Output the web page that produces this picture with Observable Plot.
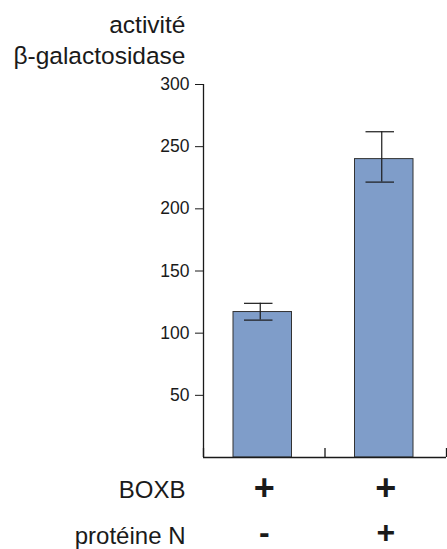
<!DOCTYPE html>
<html><head><meta charset="utf-8">
<script src="https://cdn.jsdelivr.net/npm/d3@7"></script>
<script src="https://cdn.jsdelivr.net/npm/@observablehq/plot@0.6"></script>
<style>body{margin:0;background:#fff}</style>
</head><body><div id="chart"></div>
<script>
const conditions = ["BOXB + / N -", "BOXB + / N +"];
const values = [117, 240];
const errLow = [110.5, 221.5];
const errHigh = [124, 262];
const yTicks = [50, 100, 150, 200, 250, 300];
const titleLines = ["activité", "β-galactosidase"];
const rowLabels = ["BOXB", "protéine N"];
const boxb = ["+", "+"];
const proteinN = ["-", "+"];

const data = conditions.map((c, i) => ({i, c, v: values[i], lo: errLow[i], hi: errHigh[i], b: boxb[i], n: proteinN[i]}));
const font = "Liberation Sans, Arial, Helvetica, sans-serif";
const ink = "#1a1a1a";

const plot = Plot.plot({
  width: 447, height: 549,
  marginTop: 84, marginBottom: 92, marginLeft: 203, marginRight: 1,
  style: {fontFamily: font, background: "#fff", color: ink},
  x: {domain: [0, 2], axis: null},
  y: {domain: [0, 300], axis: null},
  marks: [
    Plot.rectY(data, {x1: d => d.i, x2: d => d.i + 1, y: "v", fill: "#7f9dc9", stroke: "#333", strokeWidth: 1, insetLeft: 30, insetRight: 33}),
    Plot.ruleX(data, {x: d => d.i + 0.5, y1: "lo", y2: "hi", dx: -4, stroke: ink, strokeWidth: 1.2}),
    Plot.ruleY(data, {x1: d => d.i, x2: d => d.i + 1, y: "hi", insetLeft: 41, insetRight: 52, stroke: ink, strokeWidth: 1.2}),
    Plot.ruleY(data, {x1: d => d.i, x2: d => d.i + 1, y: "lo", insetLeft: 41, insetRight: 52, stroke: ink, strokeWidth: 1.2}),
    Plot.ruleX([0], {y1: 0, y2: 300, stroke: ink, strokeWidth: 1.3}),
    Plot.ruleY([0], {x1: 0, x2: 2, stroke: ink, strokeWidth: 1.3}),
    Plot.ruleX([0, 1, 2], {x: d => d, y1: 0, y2: 7.2, stroke: ink, strokeWidth: 1.3}),
    Plot.axisY({ticks: yTicks, tickSize: 8, tickPadding: 6, fontSize: 17.5, tickFormat: d => String(d), stroke: ink, fill: ink}),
    // title lines above the y axis
    Plot.text([titleLines[0]], {frameAnchor: "top-left", text: d => d, dx: -18, dy: -52, textAnchor: "end", lineAnchor: "bottom", fontSize: 24.5, fill: ink}),
    Plot.text([titleLines[1]], {frameAnchor: "top-left", text: d => d, dx: -18, dy: -21, textAnchor: "end", lineAnchor: "bottom", fontSize: 24.5, fill: ink}),
    // row labels below the x axis
    Plot.text([rowLabels[0]], {frameAnchor: "bottom-left", text: d => d, dx: -18, dy: 40, textAnchor: "end", lineAnchor: "bottom", fontSize: 24, fill: ink}),
    Plot.text([rowLabels[1]], {frameAnchor: "bottom-left", text: d => d, dx: -18, dy: 86, textAnchor: "end", lineAnchor: "bottom", fontSize: 24, fill: ink}),
    Plot.text(data, {x: d => d.i + 0.5, y: 0, text: "b", dy: 42.5, fontSize: 36, fontWeight: "bold", lineAnchor: "bottom", fill: ink}),
    Plot.text(data, {x: d => d.i + 0.5, y: 0, text: "n", dy: 85, fontSize: 32, fontWeight: "bold", lineAnchor: "bottom", fill: ink})
  ]
});
document.getElementById("chart").append(plot);
</script>
</body></html>
